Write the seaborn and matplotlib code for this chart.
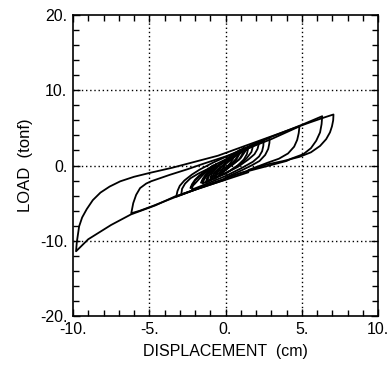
import pandas as pd
import seaborn as sns
from matplotlib import pyplot as plt
from matplotlib.ticker import MultipleLocator, FuncFormatter

# hysteresis loops, (displacement cm, load tonf)
loop_big = [(0, -1.86), (-1.5, -2.9), (-3.3, -4.1), (-4.6, -5.3), (-6.2, -6.5), (-7.5, -7.9),
            (-9.0, -9.8), (-9.8, -11.4), (-9.75, -10.2), (-9.6, -8.1), (-9.4, -6.9), (-9.1, -5.8),
            (-8.7, -4.6), (-8.2, -3.6), (-7.6, -2.8), (-6.9, -2.1), (-6.0, -1.5), (-4.9, -0.95),
            (-3.5, -0.3), (-2.0, 0.5), (-0.5, 1.3), (1.0, 2.4), (2.5, 3.5), (4.0, 4.6), (5.5, 5.7),
            (6.5, 6.4), (7.08, 6.78), (7.06, 6.0), (6.98, 5.2), (6.85, 4.4), (6.6, 3.5), (6.2, 2.6),
            (5.6, 1.75), (4.85, 1.15), (3.8, 0.6), (2.7, 0.13), (1.3, -0.8), (0, -1.7)]
loop_b = [(1.5, -0.9), (0, -1.9), (-1.7, -3.0), (-3.3, -4.2), (-4.8, -5.4), (-5.6, -6.0),
          (-6.18, -6.35), (-6.05, -5.0), (-5.86, -3.9), (-5.6, -3.0), (-5.2, -2.4), (-4.87, -2.09),
          (-3.67, -1.25), (-2.5, -0.5), (-1.5, 0.2), (0, 1.2), (1.5, 2.3), (3.0, 3.5), (4.85, 5.2),
          (4.8, 4.3), (4.7, 3.4), (4.5, 2.5), (4.1, 1.6), (3.5, 0.9), (2.8, 0.4), (1.5, -0.6)]
loop_c = [(0, -1.8), (-1.6, -2.9), (-3.23, -4.15), (-3.15, -3.4), (-3.0, -2.7), (-2.7, -2.0),
          (-2.2, -1.2), (-1.7, -0.55), (-0.8, 0.4), (0.5, 1.6), (2.0, 3.0), (3.5, 4.2), (5.0, 5.4),
          (6.34, 6.55), (6.3, 5.5), (6.2, 4.4), (5.95, 3.3), (5.6, 2.3), (5.1, 1.5), (4.3, 0.9),
          (4.0, 0.6), (2.5, -0.2), (1.0, -1.0), (0, -1.7)]
loop_d = [(0, -1.7), (-1.5, -2.8), (-2.9, -3.85), (-2.85, -3.1), (-2.65, -2.4), (-2.3, -1.7),
          (-1.8, -1.1), (-1.2, -0.5), (-0.5, 0.3), (0.8, 1.6), (2.0, 2.9), (2.89, 3.68),
          (2.88, 3.0), (2.8, 2.2), (2.6, 1.4), (2.23, 0.6), (1.7, 0.0), (1.0, -0.7), (0, -1.6)]
loop_e = [(2.5, 3.3), (2.48, 2.6), (2.4, 1.9), (2.2, 1.2), (1.8, 0.5), (1.0, -0.4), (0, -1.4),
          (-1.2, -2.4), (-2.2, -3.2), (-2.15, -2.6), (-2.0, -2.0), (-1.7, -1.4), (-1.3, -0.9),
          (-0.6, -0.1), (0.4, 1.1), (1.5, 2.3), (2.5, 3.3)]
loop_f = [(-0.8, 0.0), (-1.2, -0.7), (-1.6, -1.5), (-2.0, -2.4), (-2.3, -3.0), (-2.2, -2.5),
          (-2.0, -1.9), (-1.7, -1.3), (-1.3, -0.7), (-0.8, 0.0)]
loop_g = [(-0.6, 0.2), (-1.0, -0.8), (-1.4, -1.8), (-1.6, -2.3), (-1.5, -1.8), (-1.3, -1.2),
          (-1.0, -0.6), (-0.6, 0.2)]
loop_h1 = [(1.5, 2.4), (1.4, 1.5), (1.2, 0.8), (0.8, 0.0), (0, -1.1), (-1.0, -1.9), (-1.2, -2.1),
           (-1.1, -1.4), (-0.9, -0.8), (-0.5, 0.0), (0.3, 1.2), (1.0, 2.0), (1.5, 2.4)]
loop_h2 = [(1.2, 2.3), (1.1, 1.5), (0.9, 0.8), (0.4, 0.0), (-0.4, -1.0), (-1.0, -1.7),
           (-0.9, -1.1), (-0.6, -0.4), (-0.3, 0.2), (0.5, 1.5), (1.2, 2.3)]
loop_h3 = [(0.9, 2.0), (0.8, 1.2), (0.5, 0.4), (0.2, -0.3), (-0.4, -1.3), (-0.7, -1.8),
           (-0.6, -1.1), (-0.3, -0.3), (0.0, 0.4), (0.5, 1.4), (0.9, 2.0)]
loop_h4 = [(1.8, 2.6), (1.7, 1.8), (1.4, 1.0), (1.1, 0.4), (0.3, -0.7), (-0.5, -1.5),
           (-1.3, -2.3), (-1.2, -1.6), (-0.9, -0.9), (-0.6, -0.2), (0.2, 0.9), (1.0, 1.9), (1.8, 2.6)]
loop_h5 = [(0.6, 1.6), (0.5, 0.9), (0.3, 0.3), (0.0, -0.4), (-0.4, -1.4), (-0.3, -0.8),
           (-0.1, -0.1), (0.2, 0.6), (0.6, 1.6)]
loop_h6 = [(2.2, 3.0), (2.1, 2.2), (1.9, 1.5), (1.5, 0.8), (0.8, -0.2), (0, -1.0), (-0.8, -1.7),
           (-1.5, -2.4), (-1.4, -1.8), (-1.2, -1.1), (-0.8, -0.5), (0, 0.6), (1.0, 1.8), (2.2, 3.0)]
loop_h7 = [(1.4, 2.2), (1.0, 1.0), (0.5, 0.2), (-0.2, -0.8), (-0.9, -1.6), (-0.7, -0.9),
           (-0.2, -0.1), (0.5, 1.0), (1.4, 2.2)]
loop_h8 = [(1.0, 1.8), (0.7, 0.8), (0.2, 0.0), (-0.3, -0.6), (-0.8, -1.2), (-0.5, -0.5),
           (0.0, 0.3), (0.5, 1.1), (1.0, 1.8)]

loops = [loop_big, loop_b, loop_c, loop_d, loop_e, loop_f, loop_g, loop_h1, loop_h2,
         loop_h3, loop_h4, loop_h5, loop_h6, loop_h7, loop_h8]

x_ticks = [-10, -5, 0, 5, 10]
y_ticks = [-20, -10, 0, 10, 20]

rows = []
for i, loop in enumerate(loops):
    for j, (d, f) in enumerate(loop):
        rows.append({'loop': i, 'step': j, 'disp': d, 'load': f})
df = pd.DataFrame(rows)

sns.set_style('ticks')
plt.rcParams['font.family'] = ['Liberation Sans', 'DejaVu Sans']

fig = plt.figure(figsize=(3.91, 3.70), dpi=100)
ax = fig.add_axes([0.1867, 0.1459, 0.7801, 0.8136])

sns.lineplot(data=df, x='disp', y='load', units='loop', estimator=None, sort=False,
             color='black', linewidth=1.3, ax=ax)

ax.set_xlim(-10, 10)
ax.set_ylim(-20, 20)
ax.set_xticks(x_ticks)
ax.set_yticks(y_ticks)
ax.xaxis.set_minor_locator(MultipleLocator(1))
ax.yaxis.set_minor_locator(MultipleLocator(2))
fmt = FuncFormatter(lambda v, p: f'{v:g}.')
ax.xaxis.set_major_formatter(fmt)
ax.yaxis.set_major_formatter(fmt)

ax.tick_params(which='both', direction='in', top=True, right=True, color='black',
               width=1.0, labelsize=11.5, labelcolor='black')
ax.tick_params(which='major', length=5, pad=4)
ax.tick_params(which='minor', length=4)

for v in [-5, 0, 5]:
    ax.axvline(v, color='black', linewidth=1.0, linestyle=(0, (1, 2)), zorder=0)
for v in [-10, 0, 10]:
    ax.axhline(v, color='black', linewidth=1.0, linestyle=(0, (1, 2)), zorder=0)

for s in ax.spines.values():
    s.set_color('black')
    s.set_linewidth(1.2)

ax.set_xlabel('DISPLACEMENT  (cm)', fontsize=11.5, color='black', labelpad=5)
ax.set_ylabel('LOAD  (tonf)', fontsize=12, color='black', labelpad=5)

plt.savefig('out.png', dpi=100)
